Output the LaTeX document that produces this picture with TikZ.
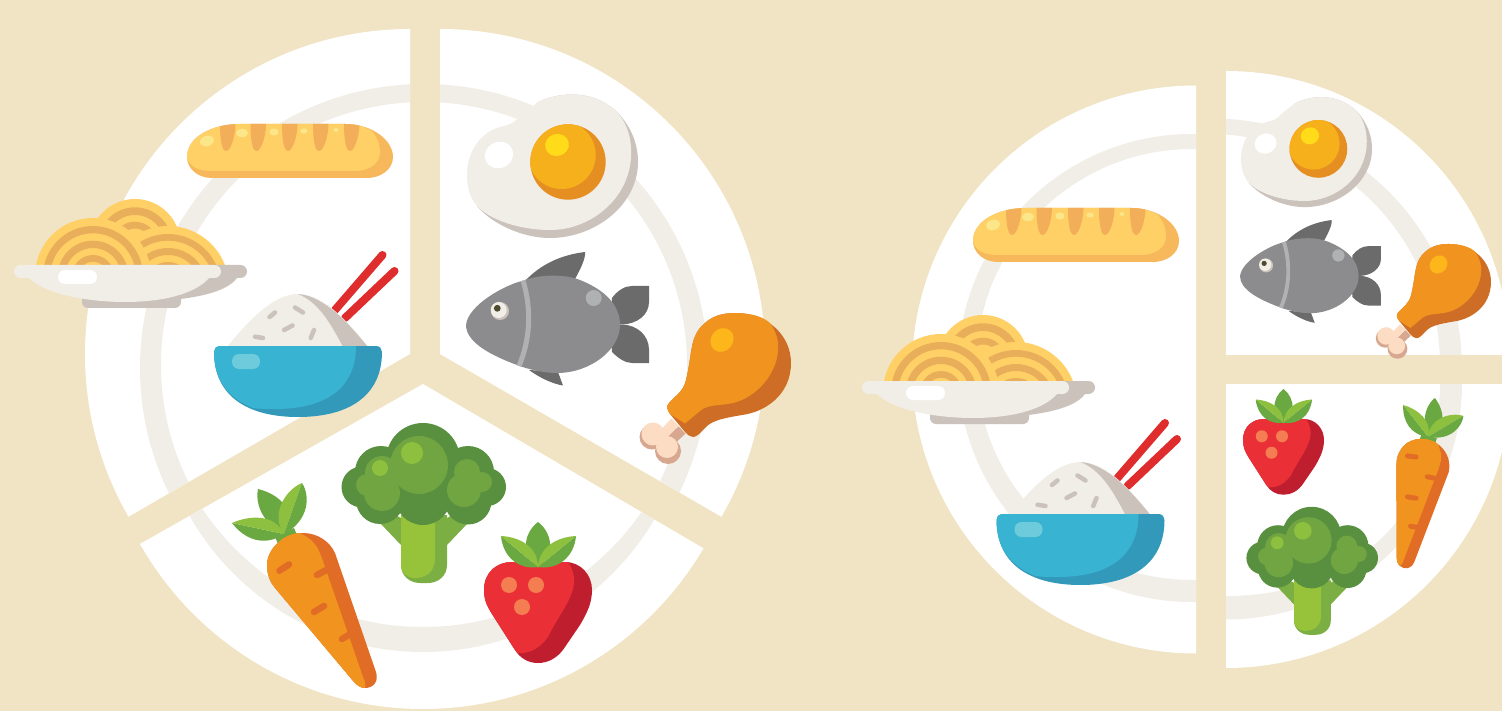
\documentclass[tikz,border=0pt]{standalone}
\definecolor{bgcream}{HTML}{F1E4C4}
\definecolor{offwhite}{HTML}{F1EEE7}
\definecolor{shadowgrey}{HTML}{CBC2BC}
\definecolor{breadlight}{HTML}{FFD066}
\definecolor{breaddark}{HTML}{F6B85B}
\definecolor{breadcut}{HTML}{F2AE59}
\definecolor{breadspot}{HTML}{FBE68A}
\definecolor{noodledark}{HTML}{E8AE5A}
\definecolor{stickred}{HTML}{DF2C2C}
\definecolor{bowlblue}{HTML}{38B4D2}
\definecolor{bowldark}{HTML}{3399BB}
\definecolor{bowlspot}{HTML}{6DCBDC}
\definecolor{yolkdark}{HTML}{E58F22}
\definecolor{yolklight}{HTML}{F6B01C}
\definecolor{yolkspot}{HTML}{FFDB1A}
\definecolor{fishbody}{HTML}{8C8C8E}
\definecolor{fishfin}{HTML}{6B6B6B}
\definecolor{fishline}{HTML}{B0B1B2}
\definecolor{fisheye}{HTML}{4D4A2F}
\definecolor{orangemain}{HTML}{F0941F}
\definecolor{orangedark}{HTML}{CE6E26}
\definecolor{orangespot}{HTML}{FDB71B}
\definecolor{bonelight}{HTML}{FCDCC2}
\definecolor{bonedark}{HTML}{D7A78F}
\definecolor{carrotdark}{HTML}{E16C26}
\definecolor{leafdark}{HTML}{6AA842}
\definecolor{leaflight}{HTML}{8DC03F}
\definecolor{crowndark}{HTML}{58903F}
\definecolor{crownlight}{HTML}{70A541}
\definecolor{stalklight}{HTML}{96C33A}
\definecolor{stalkdark}{HTML}{7CAF43}
\definecolor{berrydark}{HTML}{BF1E2E}
\definecolor{berrylight}{HTML}{EA3036}
\definecolor{berryseed}{HTML}{F47E52}
\newcommand{\foodBread}{%
  \fill[breaddark] (187,157) .. controls (187,137) and (212,124) .. (240,124) -- (345,124) .. controls (372,124) and (393,140) .. (393,157) .. controls (393,170) and (380,178) .. (367,178) -- (212,178) .. controls (197,178) and (187,168) .. (187,157) -- cycle;
  \fill[breadlight] (187,157) .. controls (187,137) and (212,124) .. (240,124) -- (345,124) .. controls (356,124) and (365,127) .. (372,131) .. controls (378,138) and (380,146) .. (380,152) .. controls (380,163) and (370,171) .. (355,171) -- (212,171) .. controls (197,171) and (189,166) .. (187,157) -- cycle;
  \begin{scope}
    \clip (187,157) .. controls (187,137) and (212,124) .. (240,124) -- (345,124) .. controls (372,124) and (393,140) .. (393,157) -- (393,178) -- (187,178) -- cycle;
    \foreach \cx in {220,250.5,282,313,344}{
      \fill[breadcut] (\cx,120) -- (\cx,124.5) .. controls (\cx,135) and (\cx+1,151) .. (\cx+6,151) .. controls (\cx+11,151) and (\cx+15.5,135) .. (\cx+15.5,124) -- (\cx+15.5,120) -- cycle;}
  \end{scope}
  \fill[breadspot] (207,141) ellipse[x radius=7,y radius=5.2,rotate=15];
  \fill[breadspot] (242,133) ellipse[x radius=6,y radius=4.2];
  \fill[breadspot] (274,132) ellipse[x radius=4.6,y radius=3.5];
  \fill[breadspot] (304,131) ellipse[x radius=3.6,y radius=2.6];
  \fill[breadspot] (336,130) ellipse[x radius=2.6,y radius=1.9];
}
\newcommand{\foodNoodles}{%
  \begin{scope}
    \clip (0,150) rectangle (300,265);
    \fill[breadlight] (135,244.5) circle[radius=45.5];
    \fill[noodledark,even odd rule] (135,244.5) circle[radius=37.2] circle[radius=29.5] circle[radius=22.8] circle[radius=16];
    \fill[breadlight] (168,287) circle[radius=61];
    \fill[noodledark,even odd rule] (168,287) circle[radius=53] circle[radius=46.3] circle[radius=39] circle[radius=32] circle[radius=25] circle[radius=19];
    \fill[breadlight] (93,276) circle[radius=58];
    \fill[noodledark,even odd rule] (93,276) circle[radius=50] circle[radius=42.7] circle[radius=35.3] circle[radius=28] circle[radius=21] circle[radius=14.3];
  \end{scope}
  \fill[shadowgrey,rounded corners=6] (82,290) rectangle (181,308);
  \fill[shadowgrey,rounded corners=6.5] (100,265) rectangle (247,278);
  \fill[shadowgrey] (100,278) -- (237,278) .. controls (225,295) and (180,302) .. (125,302) -- cycle;
  \fill[offwhite,rounded corners=6.5] (14,265) rectangle (221,278);
  \fill[offwhite] (28,277) .. controls (45,295) and (90,302) .. (125,302) .. controls (160,302) and (195,295) .. (210,277) -- cycle;
  \fill[white,rounded corners=7] (58,270) rectangle (97,284);
}
\newcommand{\foodRice}{%
  \begin{scope}[line width=8pt,line cap=round,stickred]
    \draw (382.5,255) -- (335,310);
    \draw (394.5,271) -- (345,318);
  \end{scope}
  \fill[offwhite] (227,347) .. controls (245,325) and (272,294) .. (298,294) .. controls (325,294) and (350,325) .. (368,347) -- cycle;
  \fill[shadowgrey] (298,294) .. controls (325,296) and (350,325) .. (368,347) -- (343,347) .. controls (330,322) and (318,302) .. (298,294) -- cycle;
  \begin{scope}[shadowgrey,line width=4.5pt,line cap=round]
    \draw (269.5,317) -- (275,312.5);
    \draw (295,307.5) -- (303,312.5);
    \draw (284,330) -- (292.5,325.5);
    \draw (255,336.7) -- (263,338);
    \draw (310.7,338) -- (314,330);
  \end{scope}
  \fill[bowldark] (219,346) -- (376,346) .. controls (380,346) and (382,349) .. (382,352) .. controls (382,395) and (350,417) .. (298,417) .. controls (246,417) and (214,395) .. (214,352) .. controls (214,349) and (216,346) .. (219,346) -- cycle;
  \fill[bowlblue] (219,346) -- (356,346) .. controls (356,385) and (330,409) .. (275,409) .. controls (267,409) and (260,409) .. (253,408) .. controls (228,398) and (214,380) .. (214,352) .. controls (214,349) and (216,346) .. (219,346) -- cycle;
  \fill[bowlspot,rounded corners=7] (232,354) rectangle (260,369);
}
\newcommand{\foodEgg}{%
  \fill[shadowgrey] (537,103) .. controls (550,95) and (590,85) .. (618,113) .. controls (632,128) and (638,145) .. (638,162) .. controls (638,205) and (595,238) .. (550,238) .. controls (520,238) and (490,222) .. (477,206) -- cycle;
  \fill[offwhite] (537,103) .. controls (550,95) and (590,85) .. (618,113) .. controls (628,125) and (632,140) .. (631,158) .. controls (628,200) and (590,230) .. (550,230) .. controls (520,230) and (490,220) .. (477,206) .. controls (470,198) and (467,187) .. (467,175) .. controls (467,150) and (482,132) .. (500,127) .. controls (510,125) and (515,122) .. (518,118) .. controls (525,112) and (530,108) .. (537,103) -- cycle;
  \fill[white] (499,155) ellipse[x radius=14.5,y radius=13,rotate=25];
  \fill[yolkdark] (568,162) circle[radius=37.7];
  \begin{scope}
    \clip (568,162) circle[radius=37.7];
    \fill[yolklight] (561.7,155) circle[radius=34];
  \end{scope}
  \fill[yolkspot] (557,145) ellipse[x radius=12,y radius=11,rotate=15];
}
\newcommand{\foodFish}{%
  \fill[fishfin] (525,281) .. controls (540,265) and (560,255) .. (585,252) .. controls (586,258) and (580,270) .. (575,279) -- cycle;
  \fill[fishfin] (529,370) .. controls (540,378) and (553,384) .. (563,385.5) -- (558,372) -- cycle;
  \fill[fishfin] (612,298) .. controls (618,290) and (625,286) .. (632,286) -- (649,286) -- (649,302) .. controls (649,315) and (637,324) .. (622,324.5) -- (610,324) -- cycle;
  \fill[fishfin] (622,324.5) .. controls (637,325) and (649,335) .. (649,350) -- (649,363) -- (632,363) .. controls (625,363) and (618,358) .. (612,352) -- (610,325) -- cycle;
  \fill[fishbody] (466,325) .. controls (468,305) and (505,285) .. (522,281) .. controls (540,274) and (565,274) .. (580,280) .. controls (605,290) and (620,305) .. (620,325) .. controls (620,350) and (590,373) .. (557,373) .. controls (545,373) and (530,370) .. (517,365) .. controls (490,355) and (466,342) .. (466,325) -- cycle;
  \draw[fishline,line width=\lwk*5pt] (523,280.5) .. controls (532,310) and (530,340) .. (519,366);
  \fill[shadowgrey] (500,311) circle[radius=9];
  \fill[offwhite] (498.7,310) circle[radius=8];
  \fill[fisheye] (497.3,308.3) circle[radius=3.4];
  \fill[fishline] (593.7,298) circle[radius=8];
}
\newcommand{\foodChicken}{%
  \draw[bonedark,line width=\lwk*10pt] (682,430) -- (667,444);
  \fill[bonedark] (652,437) circle[radius=12.5];
  \fill[bonedark] (668,451) circle[radius=13];
  \draw[bonelight,line width=\lwk*10pt] (675,422) -- (660,438);
  \fill[bonelight] (653,434) circle[radius=11.5];
  \fill[bonelight] (667,447) circle[radius=11];
  \fill[orangedark] (669,403) .. controls (676,395) and (683,392) .. (686,380) .. controls (692,355) and (690,340) .. (700,328) .. controls (710,316) and (722,313) .. (735,313) .. controls (767,313) and (791,335) .. (791,363) .. controls (791,395) and (765,412) .. (742,415) .. controls (725,418) and (712,420) .. (705,428) .. controls (700,433) and (697,437) .. (693,437) .. controls (690,437) and (688,435) .. (685,432) -- (670,414) .. controls (667,410) and (666,406) .. (669,403) -- cycle;
  \fill[orangemain] (669,403) .. controls (676,395) and (683,392) .. (686,380) .. controls (692,355) and (690,340) .. (700,328) .. controls (710,316) and (722,313) .. (735,313) .. controls (750,313) and (762,316) .. (770,323) .. controls (776,332) and (779,340) .. (778,350) .. controls (777,375) and (755,398) .. (733,403) .. controls (720,406) and (708,404) .. (700,411) -- (685,423.5) -- (670,414) .. controls (667,410) and (666,406) .. (669,403) -- cycle;
  \fill[orangespot] (722,340) ellipse[x radius=12.5,y radius=11,rotate=50];
}
\newcommand{\foodCarrot}{%
  \fill[leafdark] (275,537) -- (294,528) -- (297,535) -- (279,546) -- cycle;
  \fill[leafdark] (258,489) .. controls (270,492) and (280,498) .. (285,506) -- (284,534) .. controls (270,528) and (254,510) .. (258,489) -- cycle;
  \fill[leafdark] (232,523) .. controls (245,540) and (265,547) .. (284,534) -- cycle;
  \fill[leaflight] (232,523) .. controls (250,515) and (275,514) .. (284,534) -- cycle;
  \fill[leaflight] (302,483) .. controls (285,490) and (270,515) .. (284,534) -- cycle;
  \fill[leafdark] (302,483) .. controls (310,495) and (310,520) .. (284,534) -- cycle;
  \fill[carrotdark] (267,565) .. controls (267,548) and (285,533) .. (303,533) .. controls (318,533) and (330,542) .. (335,553) -- (376,672) .. controls (379,682) and (373,688) .. (365,688) .. controls (360,688) and (357,685) .. (354,682) -- (275,588) .. controls (270,582) and (267,575) .. (267,565) -- cycle;
  \fill[orangemain] (267,565) .. controls (267,548) and (285,533) .. (300,533) .. controls (308,537) and (314,542) .. (317,547) .. controls (320,553) and (323,560) .. (325,567) -- (363,677) .. controls (365,681) and (366,685) .. (365,688) .. controls (360,688) and (357,685) .. (354,682) -- (275,588) .. controls (270,582) and (267,575) .. (267,565) -- cycle;
  \begin{scope}[carrotdark,line width=\lwk*6.5pt,line cap=round]
    \draw (279.5,570.7) -- (289,564.5);
    \draw (317,575) -- (328,569);
    \draw (314,612) -- (324,606);
    \draw (342,639) -- (352,633);
  \end{scope}
}
\newcommand{\foodBroccoli}{%
  \fill[stalkdark] (380,523) -- (401,545) -- (401,518) -- (395,515) -- cycle;
  \fill[stalkdark] (468,523) -- (447,545) -- (447,518) -- (452,515) -- cycle;
  \fill[stalkdark] (401,515) -- (447,515) -- (447,565) .. controls (447,576) and (438,583) .. (428,583) -- (420,583) .. controls (410,583) and (401,576) .. (401,565) -- cycle;
  \fill[stalklight] (401,515) -- (435,515) -- (435,558) .. controls (435,570) and (428,578) .. (415,578) -- (413,578) .. controls (406,577) and (401,572) .. (401,565) -- cycle;
  \fill[crowndark] (423,460) circle[radius=37];
  \fill[crowndark] (381,472) circle[radius=26];
  \fill[crowndark] (362,487) circle[radius=20.5];
  \fill[crowndark] (380,500) circle[radius=24];
  \fill[crowndark] (468,472) circle[radius=26];
  \fill[crowndark] (487,487) circle[radius=19];
  \fill[crowndark] (468,501) circle[radius=23.5];
  \fill[crowndark] (423,497) circle[radius=28];
  \fill[crownlight] (419,465) circle[radius=29];
  \fill[crownlight] (382,473) circle[radius=17];
  \fill[crownlight] (367,485) circle[radius=11];
  \fill[crownlight] (382,493) circle[radius=18];
  \fill[crownlight] (467,472) circle[radius=13];
  \fill[crownlight] (482,482) circle[radius=10];
  \fill[crownlight] (464,490) circle[radius=17];
  \fill[leaflight] (412,453) circle[radius=11];
  \fill[leaflight] (380,468) circle[radius=8];
}
\newcommand{\foodBerry}{%
  \fill[berrydark] (484,590) .. controls (484,572) and (497,562) .. (512,562) -- (565,562) .. controls (581,562) and (592,575) .. (592,590) .. controls (592,603) and (587,613) .. (580,625) -- (565,647) .. controls (558,658) and (548,663) .. (538,663) .. controls (528,663) and (520,658) .. (515,650) -- (492,614) .. controls (487,606) and (484,600) .. (484,590) -- cycle;
  \fill[berrylight] (484,590) .. controls (484,572) and (497,562) .. (512,562) -- (568,562) .. controls (574,570) and (576,582) .. (572,592) .. controls (568,605) and (555,622) .. (548,637) .. controls (540,648) and (530,654) .. (518,653) -- (515,650) -- (492,614) .. controls (487,606) and (484,600) .. (484,590) -- cycle;
  \fill[berryseed] (509,585) circle[radius=8];
  \fill[berryseed] (536,585) circle[radius=8];
  \fill[berryseed] (522,607) circle[radius=8];
  \fill[leafdark] (538,522) .. controls (546,528) and (551,538) .. (550,548) -- (538,568) -- (526,548) .. controls (525,538) and (530,528) .. (538,522) -- cycle;
  \fill[leafdark] (501,536) .. controls (503,558) and (520,570) .. (538,567) -- cycle;
  \fill[leaflight] (501,536) .. controls (520,537) and (538,547) .. (538,567) -- cycle;
  \fill[leafdark] (576,536) .. controls (574,558) and (557,570) .. (538,567) -- cycle;
  \fill[leaflight] (576,536) .. controls (557,537) and (539,547) .. (538,567) -- cycle;
}
\begin{document}
\begin{tikzpicture}[x=1pt,y=-1pt]
\def\lwk{1}
\useasboundingbox (0,0) rectangle (1502,711);
\clip (0,0) rectangle (1502,711);
\fill[bgcream] (0,0) rectangle (1502,711);
% left plate: three separated sectors
\begin{scope}
  \clip (410,354) -- (410,0) -- (0,0) -- (0,591) -- cycle;
  \fill[white] (410,354) circle[radius=325];
  \fill[offwhite,even odd rule] (424,368) circle[radius=284] (424,365) circle[radius=263];
\end{scope}
\begin{scope}
  \clip (440,354) -- (440,0) -- (900,0) -- (900,620) -- cycle;
  \fill[white] (440,354) circle[radius=325];
  \fill[offwhite,even odd rule] (424,368) circle[radius=284] (424,365) circle[radius=263];
\end{scope}
\begin{scope}
  \clip (423,384) -- (0,623) -- (0,711) -- (860,711) -- (860,640) -- cycle;
  \fill[white] (423,384) circle[radius=325];
  \fill[offwhite,even odd rule] (423,384) circle[radius=268] (423,362) circle[radius=265];
\end{scope}
% right plate: one half and two quadrants
\begin{scope}
  \clip (800,0) rectangle (1196,711);
  \fill[white] (1196,369.5) circle[radius=284];
  \fill[offwhite,even odd rule] (1192,368) circle[radius=234] (1192,364.5) circle[radius=215.5];
\end{scope}
\begin{scope}
  \clip (1226,0) rectangle (1502,354);
  \fill[white] (1226,354) circle[radius=283];
  \fill[offwhite,even odd rule] (1212,368.5) circle[radius=250] (1209,365) circle[radius=231];
\end{scope}
\begin{scope}
  \clip (1226,384) rectangle (1502,711);
  \fill[white] (1226,384) circle[radius=284];
  \fill[offwhite] (1226,383.5) circle[radius=236];
  \fill[white] (1440,384) .. controls (1440,440) and (1415,495) .. (1394,525) .. controls (1350,575) and (1290,596) .. (1226,596) -- (1226,384) -- cycle;
\end{scope}
% foods, left plate
\foodBread
\foodNoodles
\foodRice
\foodEgg
\foodFish
\foodChicken
\foodCarrot
\foodBroccoli
\foodBerry
% foods, right plate
\begin{scope}[shift={(786,84)}]\foodBread\end{scope}
\begin{scope}[shift={(848,116)}]\foodNoodles\end{scope}
\begin{scope}[shift={(782.5,168)}]\foodRice\end{scope}
\begin{scope}[shift={(883.3,24.8)},scale=0.766]\foodEgg\end{scope}
\begin{scope}[shift={(881.2,26)},scale=0.77]\def\lwk{0.77}\foodFish\end{scope}
\begin{scope}[shift={(889.8,6.1)},scale=0.76]\def\lwk{0.76}\foodChicken\end{scope}
\begin{scope}[shift={(880,-2.5)},scale=0.75]\foodBerry\end{scope}
\begin{scope}[shift={(973.2,168.4)},scale=0.8]\foodBroccoli\end{scope}
\begin{scope}[shift={(1400,566)},rotate=-40,scale=0.76,shift={(-365,-688)}]\def\lwk{0.76}\foodCarrot\end{scope}
\end{tikzpicture}
\end{document}
